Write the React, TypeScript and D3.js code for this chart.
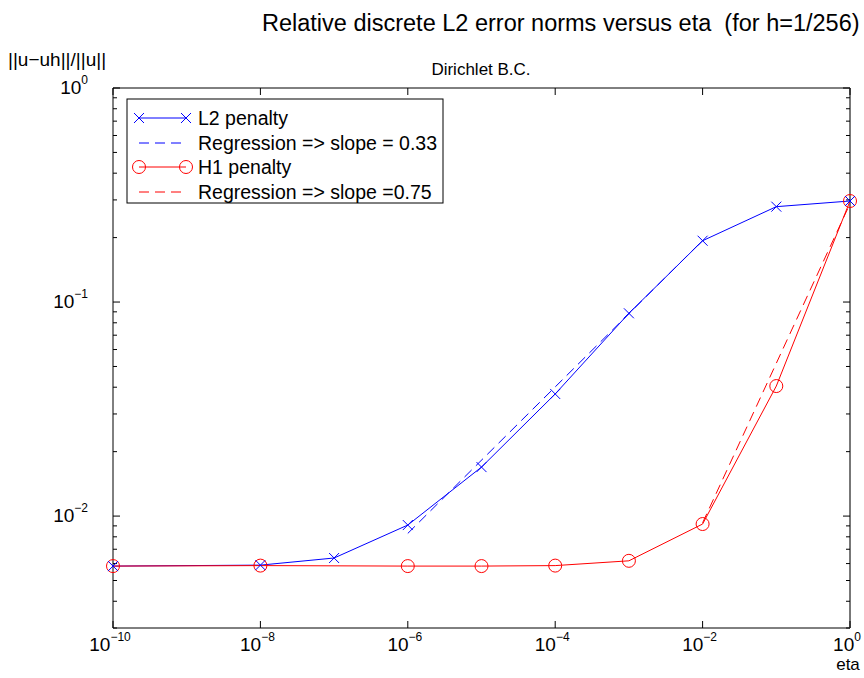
import React from "react";
import * as d3 from "d3";

const etaL2 = [1e-10, 1e-8, 1e-7, 1e-6, 1e-5, 1e-4, 1e-3, 1e-2, 1e-1, 1];
const errL2 = [0.00584, 0.0059, 0.00637, 0.00908, 0.01694, 0.0372, 0.0886, 0.1934, 0.279, 0.2965];
const etaH1 = [1e-10, 1e-8, 1e-6, 1e-5, 1e-4, 1e-3, 1e-2, 1e-1, 1];
const errH1 = [0.00584, 0.00587, 0.00584, 0.00584, 0.00587, 0.00618, 0.00918, 0.0405, 0.2965];
const regEtaL2 = [1e-6, 1e-2];
const regErrL2 = [0.0083, 0.194];
const regEtaH1 = [1e-2, 1];
const regErrH1 = [0.0093, 0.288];
const xTickExps = [-10, -8, -6, -4, -2, 0];
const yTickExps = [-2, -1, 0];
const legendLabels = [
  "L2 penalty",
  "Regression => slope = 0.33",
  "H1 penalty",
  "Regression => slope =0.75",
];

const W = 864;
const H = 678;
const M = { left: 113, right: 850, top: 88, bottom: 628 };
const FONT = "'Liberation Sans', Arial, Helvetica, sans-serif";
const BLUE = "#0000ff";
const RED = "#ff0000";
const DASH = "10,6";

export default function App() {
  const x = d3.scaleLog().domain([1e-10, 1]).range([M.left, M.right]);
  const y = d3.scaleLog().domain([3e-3, 1]).range([M.bottom, M.top]);
  const line = d3
    .line<[number, number]>()
    .x((d) => x(d[0]))
    .y((d) => y(d[1]));

  const l2Pts: [number, number][] = etaL2.map((e, i) => [e, errL2[i]]);
  const h1Pts: [number, number][] = etaH1.map((e, i) => [e, errH1[i]]);
  const regL2: [number, number][] = regEtaL2.map((e, i) => [e, regErrL2[i]]);
  const regH1: [number, number][] = regEtaH1.map((e, i) => [e, regErrH1[i]]);

  const yMinor: number[] = [];
  for (let e = -3; e < 0; e++) {
    for (let k = 2; k <= 9; k++) {
      const v = k * Math.pow(10, e);
      if (v >= 3e-3 && v < 1) yMinor.push(v);
    }
  }

  const xMark = (cx: number, cy: number, key: string) => (
    <path
      key={key}
      d={`M${cx - 5},${cy - 5}L${cx + 5},${cy + 5}M${cx - 5},${cy + 5}L${cx + 5},${cy - 5}`}
      stroke={BLUE}
      strokeWidth={1}
      fill="none"
    />
  );
  const oMark = (cx: number, cy: number, key: string) => (
    <circle key={key} cx={cx} cy={cy} r={6.5} stroke={RED} strokeWidth={1} fill="none" />
  );

  const legX = 127;
  const legY = 99;
  const legW = 316;
  const legH = 104;
  const rowYs = [118, 143, 167, 192];
  const sampleX0 = 139;
  const sampleX1 = 186;

  return (
    <svg
      width={W}
      height={H}
      style={{ position: "absolute", left: 0, top: 0, background: "#fff" }}
      fontFamily={FONT}
    >
      <rect x={0} y={0} width={W} height={H} fill="#fff" />
      <text x={262} y={31} fontSize={23.5} fill="#000" style={{ whiteSpace: "pre" }}>
        {"Relative discrete L2 error norms versus eta  (for h=1/256)"}
      </text>
      <text x={481} y={75} fontSize={17} textAnchor="middle" fill="#000">
        Dirichlet B.C.
      </text>
      <text x={8} y={66} fontSize={19} fill="#000">
        ||u−uh||/||u||
      </text>
      <text x={848} y={670} fontSize={17} textAnchor="middle" fill="#000">
        eta
      </text>

      <line x1={M.left} x2={M.right} y1={M.bottom} y2={M.bottom} stroke="#000" />
      <line x1={M.left} x2={M.right} y1={M.top} y2={M.top} stroke="#000" />
      <line x1={M.left} x2={M.left} y1={M.top} y2={M.bottom} stroke="#000" />
      <line x1={M.right} x2={M.right} y1={M.top} y2={M.bottom} stroke="#777" strokeWidth={2} />

      {xTickExps.map((e) => {
        const px = x(Math.pow(10, e));
        return (
          <g key={"xt" + e}>
            <line x1={px} x2={px} y1={M.bottom} y2={M.bottom - 7} stroke="#000" />
            <line x1={px} x2={px} y1={M.top} y2={M.top + 7} stroke="#000" />
            <text x={px - 3} y={651} fontSize={19} textAnchor="middle" fill="#000">
              10
              <tspan dy={-10} fontSize={12}>
                {e === 0 ? "0" : "−" + Math.abs(e)}
              </tspan>
            </text>
          </g>
        );
      })}

      {yTickExps.map((e) => {
        const py = y(Math.pow(10, e));
        return (
          <g key={"yt" + e}>
            <line x1={M.left} x2={M.left + 7} y1={py} y2={py} stroke="#000" />
            <line x1={M.right} x2={M.right - 7} y1={py} y2={py} stroke="#000" />
            <text x={88} y={py + 6} fontSize={19} textAnchor="end" fill="#000">
              10
              <tspan dy={-10} fontSize={12}>
                {e === 0 ? "0" : "−" + Math.abs(e)}
              </tspan>
            </text>
          </g>
        );
      })}
      {yMinor.map((v, i) => {
        const py = y(v);
        return (
          <g key={"ym" + i}>
            <line x1={M.left} x2={M.left + 4} y1={py} y2={py} stroke="#000" />
            <line x1={M.right} x2={M.right - 4} y1={py} y2={py} stroke="#000" />
          </g>
        );
      })}

      <path d={line(regL2) || ""} stroke={BLUE} strokeWidth={1} fill="none" strokeDasharray={DASH} />
      <path d={line(regH1) || ""} stroke={RED} strokeWidth={1} fill="none" strokeDasharray={DASH} />

      <path d={line(l2Pts) || ""} stroke={BLUE} strokeWidth={1} fill="none" />
      <path d={line(h1Pts) || ""} stroke={RED} strokeWidth={1} fill="none" />
      {h1Pts.map((d, i) => oMark(x(d[0]), y(d[1]), "o" + i))}
      {l2Pts.map((d, i) => xMark(x(d[0]), y(d[1]), "x" + i))}

      <rect x={legX} y={legY} width={legW} height={legH} fill="#fff" stroke="#000" />
      <line x1={sampleX0} x2={sampleX1} y1={rowYs[0]} y2={rowYs[0]} stroke={BLUE} />
      {xMark(sampleX0, rowYs[0], "lx0")}
      {xMark(sampleX1, rowYs[0], "lx1")}
      <line
        x1={sampleX0}
        x2={sampleX1}
        y1={rowYs[1]}
        y2={rowYs[1]}
        stroke={BLUE}
        strokeDasharray={DASH}
      />
      <line x1={sampleX0} x2={sampleX1} y1={rowYs[2]} y2={rowYs[2]} stroke={RED} />
      {oMark(sampleX0, rowYs[2], "lo0")}
      {oMark(sampleX1, rowYs[2], "lo1")}
      <line
        x1={sampleX0}
        x2={sampleX1}
        y1={rowYs[3]}
        y2={rowYs[3]}
        stroke={RED}
        strokeDasharray={DASH}
      />
      {legendLabels.map((t, i) => (
        <text key={"lt" + i} x={198} y={rowYs[i] + 7} fontSize={19.5} fill="#000">
          {t}
        </text>
      ))}
    </svg>
  );
}
